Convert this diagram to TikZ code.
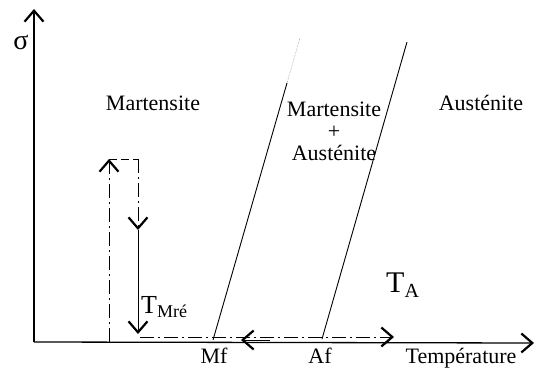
\documentclass[tikz,border=0pt]{standalone}
\usepackage{fontspec}
\setmainfont{Liberation Serif}
\usetikzlibrary{arrows.meta}
\begin{document}
\begin{tikzpicture}[x=1pt,y=-1pt,
  ln/.style={line width=1.3pt},
  thin/.style={line width=0.9pt},
  dd/.style={line width=1pt, dash pattern=on 14pt off 4pt on 2pt off 4pt},
  barb/.style={-{Straight Barb[length=11pt,width=19pt,line width=2.2pt]}},
  lbl/.style={font=\fontsize{22}{26}\selectfont, inner sep=0pt},
]
\useasboundingbox (0,0) rectangle (538,372);
% axes
\coordinate (O) at (34,342);
\coordinate (Ytop) at (34,9);
\coordinate (Xend) at (534,343);
\draw[ln,barb] (O) -- (Ytop);
\draw[ln,barb] (O) -- (Xend);
\node[inner sep=0pt, font=\fontsize{28}{30}\selectfont] (sigma) at (21,42) {σ};
% transformation lines
\coordinate (Mf) at (213,340);
\coordinate (MfMid) at (287,83);
\coordinate (MfTop) at (300,38);
\coordinate (Af) at (322,339);
\coordinate (AfTop) at (407,42);
\draw[thin] (Mf) -- (MfMid);
\draw[line width=0.5pt, densely dotted, gray] (MfMid) -- (MfTop);
\draw[thin] (Af) -- (AfTop);
% region labels
\node[lbl] (mart) at (153,103) {Martensite};
\node[lbl, align=center] (mix) at (334,131) {Martensite\\[-4pt]+\\[-4pt]Austénite};
\node[lbl] (aust) at (481,103) {Austénite};
% cycle
\coordinate (P0) at (109,342);
\coordinate (P1) at (109,159);
\coordinate (P2) at (138,159);
\coordinate (P3) at (138,230);
\coordinate (P4) at (138,334);
\coordinate (Q0) at (140,337);
\coordinate (Q1) at (394,337);
\coordinate (R0) at (270,340);
\coordinate (R1) at (241,340);
\draw[dd,barb] (P0) -- (P1);
\draw[line width=1pt, dash pattern=on 8pt off 4pt] (P1) -- (P2);
\draw[dd,barb] (P2) -- (P3);
\draw[thin,barb] (P3) -- (P4);
\draw[dd,barb] (Q0) -- (Q1);
\draw[thin,barb] (R0) -- (R1);
% labels on axis
\node[inner sep=0pt, anchor=base west] (tmre) at (141,313) {\fontsize{26}{30}\selectfont T\raisebox{-4pt}{\fontsize{18}{20}\selectfont Mré}};
\node[inner sep=0pt, anchor=base west] (ta) at (386,292) {\fontsize{30}{34}\selectfont T\raisebox{-5pt}{\fontsize{20}{22}\selectfont A}};
\node[lbl] (mflbl) at (214,356) {Mf};
\node[lbl] (aflbl) at (320,356) {Af};
\node[lbl] (temp) at (461,358) {Température};
\end{tikzpicture}
\end{document}
